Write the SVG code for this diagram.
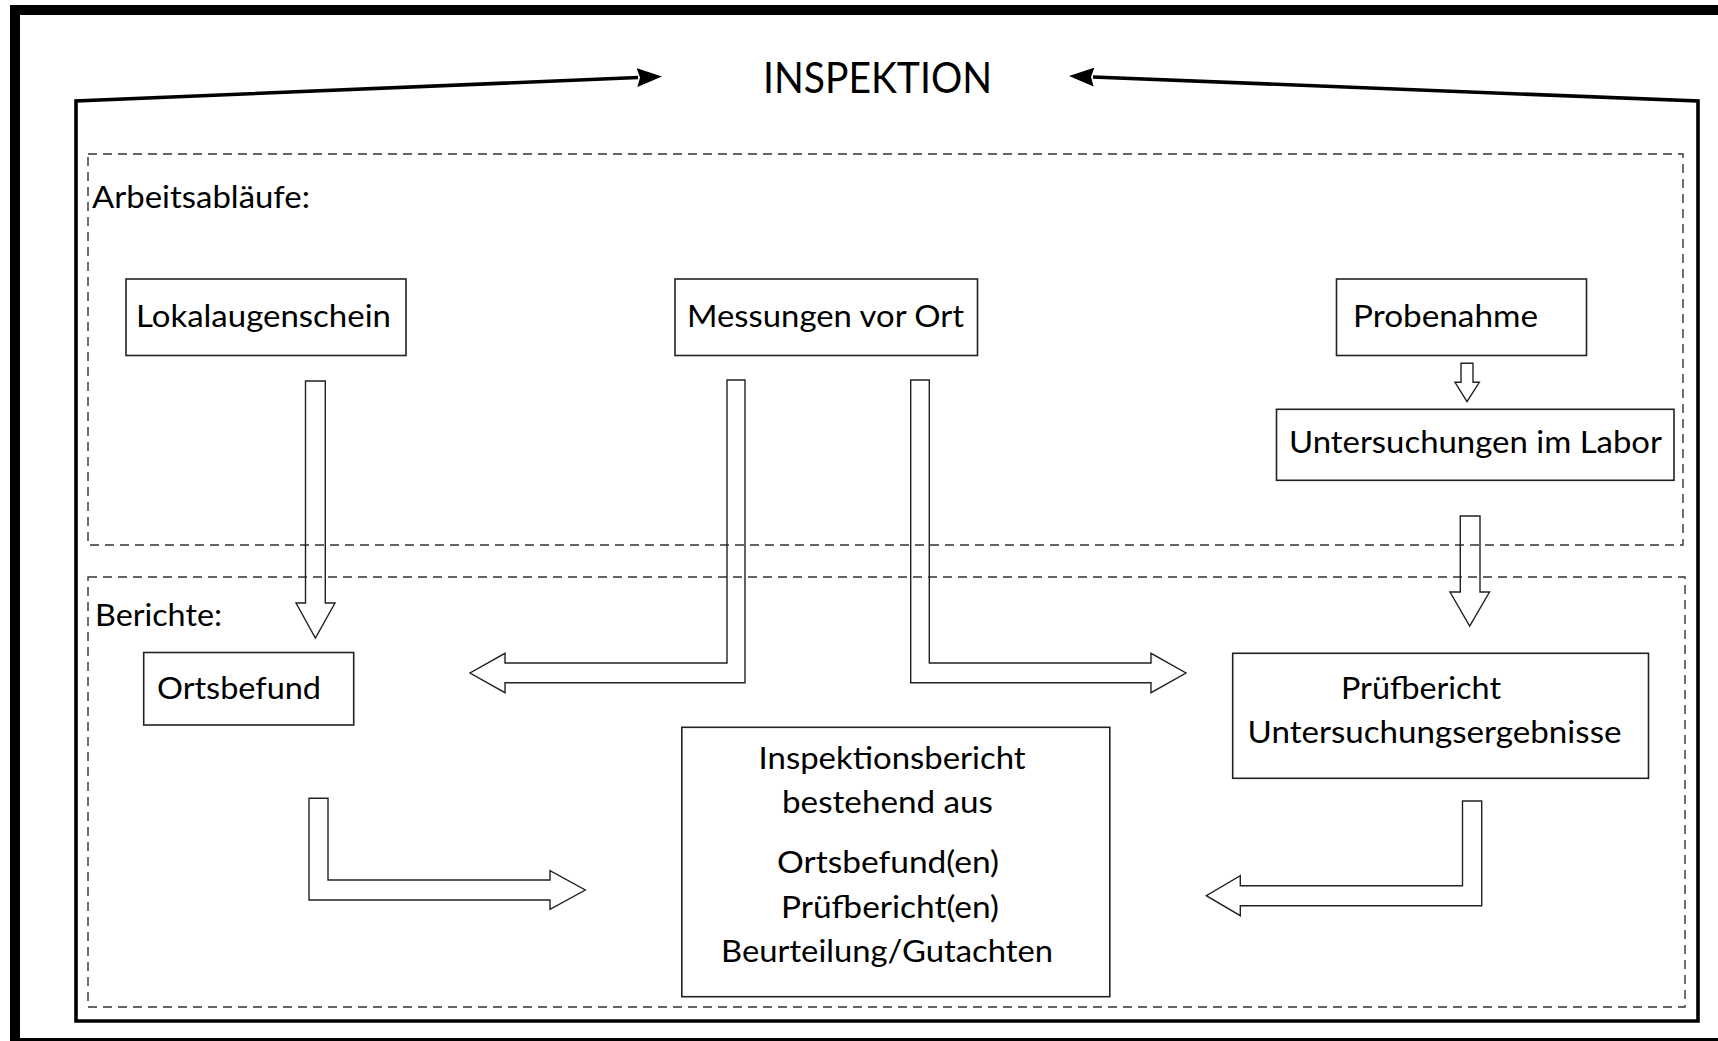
<svg xmlns="http://www.w3.org/2000/svg" width="1718" height="1041" viewBox="0 0 1718 1041">
  <style>
    text { font-family: Lato, "Open Sans", "Liberation Sans", sans-serif; fill: #000; }
    .t { font-size: 31.5px; }
    .title { font-size: 42px; }
    .box { fill: #fff; stroke: #222; stroke-width: 1.6; }
    .blk { fill: none; stroke: #222; stroke-width: 1.4; stroke-linejoin: miter; }
    .dash { fill: none; stroke: #333; stroke-width: 1.4; stroke-dasharray: 9 6; }
    .frame { fill: none; stroke: #000; stroke-width: 3.6; stroke-linejoin: miter; }
  </style>
  <defs>
    <marker id="head" markerUnits="userSpaceOnUse" markerWidth="26" markerHeight="22" refX="1" refY="10" orient="auto-start-reverse" viewBox="0 0 26 20">
      <path d="M0,0.5 L25,10 L0,19.5 L3,10 Z" fill="#000"/>
    </marker>
  </defs>
  <rect width="1718" height="1041" fill="#fff"/>

  <!-- outer thick border -->
  <rect x="15" y="10" width="1730" height="1033" fill="none" stroke="#000" stroke-width="10"/>

  <!-- dashed regions -->
  <g id="regions">
    <rect class="dash" x="88" y="154" width="1595" height="391"/>
    <rect class="dash" x="88" y="577" width="1597" height="430"/>
    <text class="t" x="92" y="208" textLength="218" lengthAdjust="spacingAndGlyphs">Arbeitsabläufe:</text>
    <text class="t" x="95" y="626" textLength="127" lengthAdjust="spacingAndGlyphs">Berichte:</text>
  </g>

  <!-- title -->
  <g id="title">
    <text class="title" x="763" y="93" textLength="229" lengthAdjust="spacingAndGlyphs">INSPEKTION</text>
  </g>

  <!-- connectors -->
  <g id="connectors">
    <path class="frame" d="M638,77.5 L76,101 L76,1021 L1698,1021 L1698,101 L1093,77" marker-start="url(#head)" marker-end="url(#head)"/>
    <polygon class="blk" points="305.5,381 325.3,381 325.3,603 335,603 315.4,638 296,603 305.5,603"/>
    <polygon class="blk" points="727,380 745,380 745,682.7 505,682.7 505,692.7 470,673 505,653.3 505,663 727,663"/>
    <polygon class="blk" points="910.7,380 929.3,380 929.3,663 1151,663 1151,653.3 1186,673 1151,692.7 1151,682.7 910.7,682.7"/>
    <polygon class="blk" points="1461,363.3 1473,363.3 1473,382.3 1479.3,382.3 1467,401.7 1455,382.3 1461,382.3"/>
    <polygon class="blk" points="1460.3,516 1480,516 1480,592 1489.5,592 1469.7,626 1450,592 1460.3,592"/>
    <polygon class="blk" points="309,798.3 328,798.3 328,880 550,880 550,870.7 585.3,890 550,909.3 550,900 309,900"/>
    <polygon class="blk" points="1462.5,801 1481.7,801 1481.7,905.7 1240.3,905.7 1240.3,915.7 1206.3,895.7 1240.3,875.7 1240.3,885.7 1462.5,885.7"/>
  </g>

  <!-- nodes -->
  <g id="lokalaugenschein">
    <rect class="box" x="126" y="279" width="280" height="76.5"/>
    <text class="t" x="136" y="327" textLength="255" lengthAdjust="spacingAndGlyphs">Lokalaugenschein</text>
  </g>
  <g id="messungen">
    <rect class="box" x="675" y="279" width="302.5" height="76.5"/>
    <text class="t" x="687" y="327" textLength="277" lengthAdjust="spacingAndGlyphs">Messungen vor Ort</text>
  </g>
  <g id="probenahme">
    <rect class="box" x="1336.5" y="279" width="250" height="76.5"/>
    <text class="t" x="1353" y="327" textLength="185" lengthAdjust="spacingAndGlyphs">Probenahme</text>
  </g>
  <g id="labor">
    <rect class="box" x="1276.5" y="409.3" width="397.5" height="71"/>
    <text class="t" x="1289" y="453" textLength="373" lengthAdjust="spacingAndGlyphs">Untersuchungen im Labor</text>
  </g>
  <g id="ortsbefund">
    <rect class="box" x="143.7" y="652.5" width="210" height="72.5"/>
    <text class="t" x="157" y="699" textLength="164" lengthAdjust="spacingAndGlyphs">Ortsbefund</text>
  </g>
  <g id="pruefbericht">
    <rect class="box" x="1232.7" y="653.3" width="415.8" height="125"/>
    <text class="t" x="1341" y="699" textLength="160" lengthAdjust="spacingAndGlyphs">Prüfbericht</text>
    <text class="t" x="1247.5" y="742.5" textLength="374" lengthAdjust="spacingAndGlyphs">Untersuchungsergebnisse</text>
  </g>
  <g id="inspektionsbericht">
    <rect class="box" x="681.8" y="727.3" width="428" height="269.4"/>
    <text class="t" x="758.6" y="769" textLength="267" lengthAdjust="spacingAndGlyphs">Inspektionsbericht</text>
    <text class="t" x="782" y="813" textLength="211" lengthAdjust="spacingAndGlyphs">bestehend aus</text>
    <text class="t" x="777" y="873" textLength="222" lengthAdjust="spacingAndGlyphs">Ortsbefund(en)</text>
    <text class="t" x="781" y="917.5" textLength="218" lengthAdjust="spacingAndGlyphs">Prüfbericht(en)</text>
    <text class="t" x="721" y="961.5" textLength="332" lengthAdjust="spacingAndGlyphs">Beurteilung/Gutachten</text>
  </g>
</svg>
